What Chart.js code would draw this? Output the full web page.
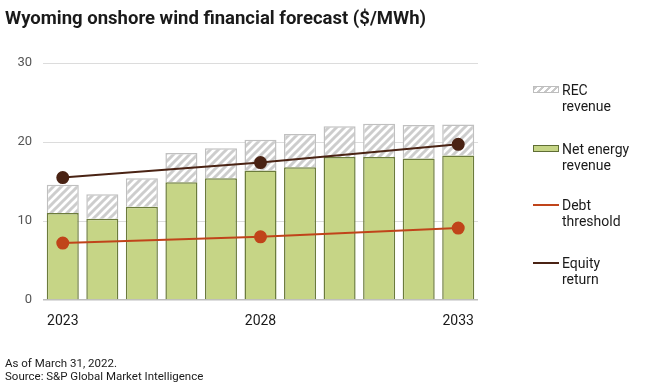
<!DOCTYPE html>
<html>
<head>
<meta charset="utf-8">
<script src="https://cdn.jsdelivr.net/npm/chart.js@4"></script>
<style>
  body { margin: 0; background: #fff; font-family: Roboto, "Open Sans", sans-serif; }
  #wrap { position: relative; width: 660px; height: 392px; overflow: hidden; }
  #chart { position: absolute; left: 0; top: 0; }
  .title { position: absolute; left: 5px; top: 7px; font-size: 18.5px; font-weight: bold; color: #1a1a1a; white-space: nowrap; }
  .legend-item { position: absolute; left: 533px; font-size: 14px; line-height: 16px; color: #1a1a1a; }
  .legend-item .sw { position: absolute; left: 0; top: 4px; width: 26px; height: 7px; box-sizing: border-box; }
  .legend-item .txt { position: absolute; left: 29px; top: 0; white-space: nowrap; }
  .note { position: absolute; left: 5px; font-size: 11.5px; color: #1a1a1a; white-space: nowrap; }
</style>
</head>
<body>
<div id="wrap">
  <canvas id="chart" width="660" height="392"></canvas>
  <div class="title">Wyoming onshore wind financial forecast ($/MWh)</div>

  <div class="legend-item" style="top:82px">
    <div class="sw" style="border:1px solid #bdbdbd;background:repeating-linear-gradient(-45deg,#fff 0 3px,#c9c9c9 3px 5px);"></div>
    <div class="txt">REC<br>revenue</div>
  </div>
  <div class="legend-item" style="top:141px">
    <div class="sw" style="border:1px solid #5f6e35;background:#c6d586;"></div>
    <div class="txt">Net energy<br>revenue</div>
  </div>
  <div class="legend-item" style="top:197px">
    <div class="sw" style="top:7px;height:2px;background:#c0441a;"></div>
    <div class="txt">Debt<br>threshold</div>
  </div>
  <div class="legend-item" style="top:255px">
    <div class="sw" style="top:7px;height:2px;background:#4a2314;"></div>
    <div class="txt">Equity<br>return</div>
  </div>

  <div class="note" style="top:356px">As of March 31, 2022.</div>
  <div class="note" style="top:369px">Source: S&amp;P Global Market Intelligence</div>
</div>

<script>
// Chart data ($/MWh)
const years = ['2023', '2024', '2025', '2026', '2027', '2028', '2029', '2030', '2031', '2032', '2033'];
const netEnergy = [11.0, 10.3, 11.8, 14.9, 15.4, 16.4, 16.8, 18.1, 18.1, 17.9, 18.3];
const recRevenue = [3.6, 3.1, 3.6, 3.7, 3.8, 3.9, 4.2, 3.9, 4.2, 4.25, 3.9];
const debtThreshold = [7.2, null, null, null, null, 8.0, null, null, null, null, 9.1];
const equityReturn = [15.5, null, null, null, null, 17.4, null, null, null, null, 19.7];
const yTicks = [0, 10, 20, 30];
const xTickLabels = ['2023', '2028', '2033'];

// Diagonal hatch for the REC bars
function makeHatch() {
    const c = document.createElement('canvas');
    c.width = 8;
    c.height = 8;
    const g = c.getContext('2d');
    g.fillStyle = '#ffffff';
    g.fillRect(0, 0, 8, 8);
    g.strokeStyle = '#cdcdcd';
    g.lineWidth = 3;
    g.beginPath();
    g.moveTo(-2, 10); g.lineTo(10, -2);
    g.moveTo(-2, 2); g.lineTo(2, -2);
    g.moveTo(6, 10); g.lineTo(10, 6);
    g.stroke();
    return g.createPattern(c, 'repeat');
}

const ctx = document.getElementById('chart').getContext('2d');

// note: "order" also sets stacking order, so net energy (bottom) gets the lower number
new Chart(ctx, {
    data: {
        labels: years,
        datasets: [
            {
                type: 'bar',
                label: 'Net energy revenue',
                data: netEnergy,
                stack: 'rev',
                backgroundColor: '#c6d586',
                borderColor: '#6b7b3b',
                borderWidth: 1.5,
                barPercentage: 0.81,
                categoryPercentage: 1,
                order: 2
            },
            {
                type: 'bar',
                label: 'REC revenue',
                data: recRevenue,
                stack: 'rev',
                backgroundColor: makeHatch(),
                borderColor: '#c0c0c0',
                borderWidth: 1.5,
                barPercentage: 0.81,
                categoryPercentage: 1,
                order: 3
            },
            {
                type: 'line',
                label: 'Debt threshold',
                data: debtThreshold,
                stack: 'debt',
                borderColor: '#c0441a',
                backgroundColor: '#c0441a',
                borderWidth: 2,
                pointRadius: 5.5,
                spanGaps: true,
                order: 1
            },
            {
                type: 'line',
                label: 'Equity return',
                data: equityReturn,
                stack: 'equity',
                borderColor: '#4a2314',
                backgroundColor: '#4a2314',
                borderWidth: 2,
                pointRadius: 5.5,
                spanGaps: true,
                order: 0
            }
        ]
    },
    options: {
        responsive: false,
        animation: false,
        layout: { padding: { left: 0, top: 63, right: 182, bottom: 0 } },
        plugins: {
            legend: { display: false },
            tooltip: { enabled: false }
        },
        scales: {
            x: {
                stacked: true,
                grid: { display: false },
                border: { display: false },
                afterFit: (scale) => { scale.height = 92; },
                ticks: {
                    autoSkip: false,
                    maxRotation: 0,
                    padding: 5,
                    color: '#1a1a1a',
                    font: { family: 'Roboto', size: 14 },
                    callback: function (value) {
                        const lab = this.getLabelForValue(value);
                        return xTickLabels.includes(lab) ? lab : '';
                    }
                }
            },
            y: {
                stacked: true,
                min: 0,
                max: 30,
                afterFit: (scale) => { scale.width = 43; },
                afterBuildTicks: (scale) => { scale.ticks = yTicks.map(v => ({ value: v })); },
                grid: {
                    drawTicks: false,
                    color: (c) => c.tick && c.tick.value === 0 ? '#bdbdbd' : '#dcdcdc',
                    lineWidth: (c) => c.tick && c.tick.value === 0 ? 1.5 : 1
                },
                border: { display: false },
                ticks: {
                    padding: 11,
                    color: '#555555',
                    font: { family: 'Roboto', size: 13 }
                }
            }
        }
    }
});
</script>
</body>
</html>
